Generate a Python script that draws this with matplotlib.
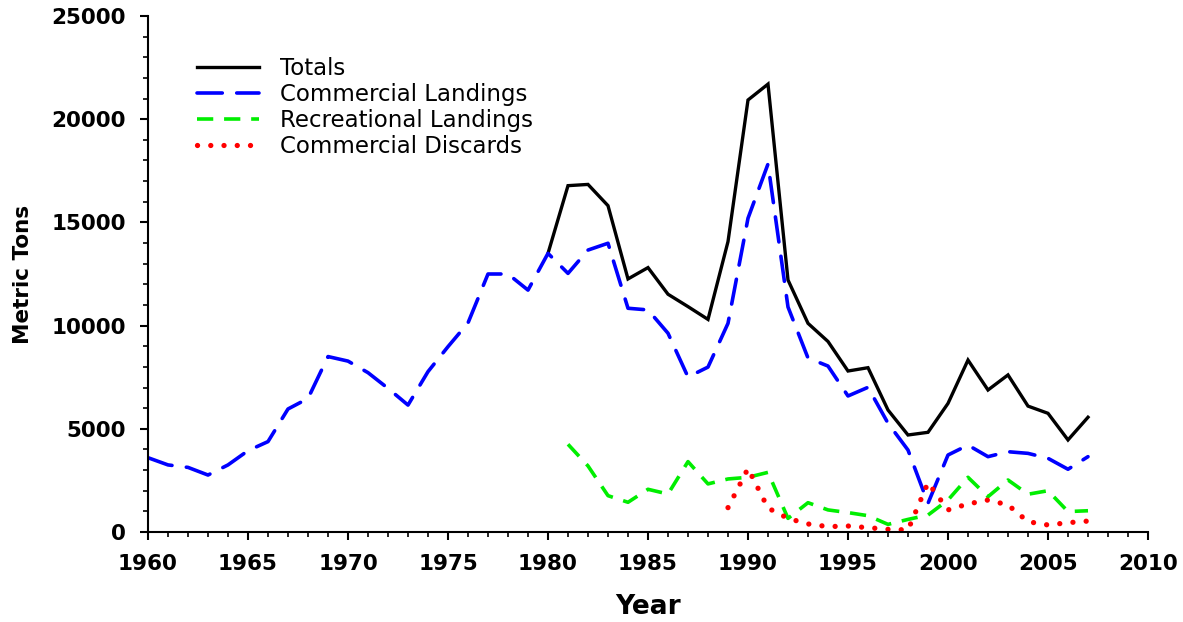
import matplotlib
matplotlib.use("Agg")
import matplotlib.pyplot as plt
from matplotlib.ticker import MultipleLocator

years_comm = list(range(1960, 2008))
commercial = [3600, 3250, 3130, 2760, 3250, 3940, 4380, 5960, 6470, 8500,
              8280, 7720, 6960, 6150, 7770, 8980, 10130, 12500, 12500, 11720,
              13500, 12530, 13660, 13990, 10840, 10760, 9630, 7510, 7990, 10110,
              15200, 17830, 10900, 8430, 8040, 6590, 7010, 5270, 3970, 1390,
              3730, 4210, 3650, 3890, 3810, 3570, 3040, 3650]

years_tot = list(range(1980, 2008))
totals = [13500, 16780, 16840, 15810, 12260, 12810, 11520, 10920, 10300, 14070,
          20930, 21700, 12210, 10110, 9230, 7800, 7960, 5910, 4700, 4830,
          6230, 8330, 6880, 7610, 6100, 5750, 4460, 5560]

years_rec = list(range(1981, 2008))
recreational = [4250, 3200, 1760, 1440, 2070, 1840, 3410, 2330, 2570, 2650,
                2890, 660, 1420, 1070, 940, 790, 370, 610, 820, 1550,
                2650, 1710, 2520, 1830, 2000, 990, 1030]

years_disc = list(range(1989, 2008))
discards = [1180, 3080, 1160, 660, 390, 260, 290, 210, 130, 100,
            2390, 1070, 1360, 1550, 1310, 500, 340, 450, 530]

W, H = 1183, 622
fig = plt.figure(figsize=(W / 100, H / 100), dpi=100)
ax = fig.add_axes([148 / W, (H - 532) / H, 1000 / W, 516 / H])

ax.plot(years_tot, totals, color="black", lw=2.4, label="Totals",
        solid_joinstyle="miter")
ax.plot(years_comm, commercial, color="#0000ff", lw=2.6, dashes=(7, 4),
        dash_capstyle="round", label="Commercial Landings")
ax.plot(years_rec, recreational, color="#00ee00", lw=2.6, dashes=(4.5, 3),
        label="Recreational Landings")
ax.plot(years_disc, discards, color="#ff0000", lw=3.8, dashes=(0.01, 2.5),
        dash_capstyle="round", label="Commercial Discards")

ax.set_xlim(1960, 2010)
ax.set_ylim(0, 25000)
ax.xaxis.set_major_locator(MultipleLocator(5))
ax.xaxis.set_minor_locator(MultipleLocator(1))
ax.yaxis.set_major_locator(MultipleLocator(5000))
ax.yaxis.set_minor_locator(MultipleLocator(1000))

for s in ["top", "right"]:
    ax.spines[s].set_visible(False)
for s in ["left", "bottom"]:
    ax.spines[s].set_linewidth(1.5)

ax.tick_params(which="major", direction="out", length=6, width=1.5,
               labelsize=15.5)
ax.tick_params(which="minor", direction="out", length=3.5, width=1.2)
for lbl in ax.get_xticklabels() + ax.get_yticklabels():
    lbl.set_fontweight("bold")
ax.tick_params(axis="x", pad=10)
ax.tick_params(axis="y", pad=10)

ax.set_xlabel("Year", fontsize=19, fontweight="bold", labelpad=14)
ax.set_ylabel("Metric Tons", fontsize=15.5, fontweight="bold", labelpad=13)

leg = ax.legend(loc="upper left", bbox_to_anchor=(197 / W, 1 - 57 / H),
                bbox_transform=fig.transFigure, frameon=False, fontsize=16.5,
                handlelength=2.7, handletextpad=0.9, labelspacing=0.13,
                borderpad=0, borderaxespad=0)

fig.savefig("out.png", dpi=100)
